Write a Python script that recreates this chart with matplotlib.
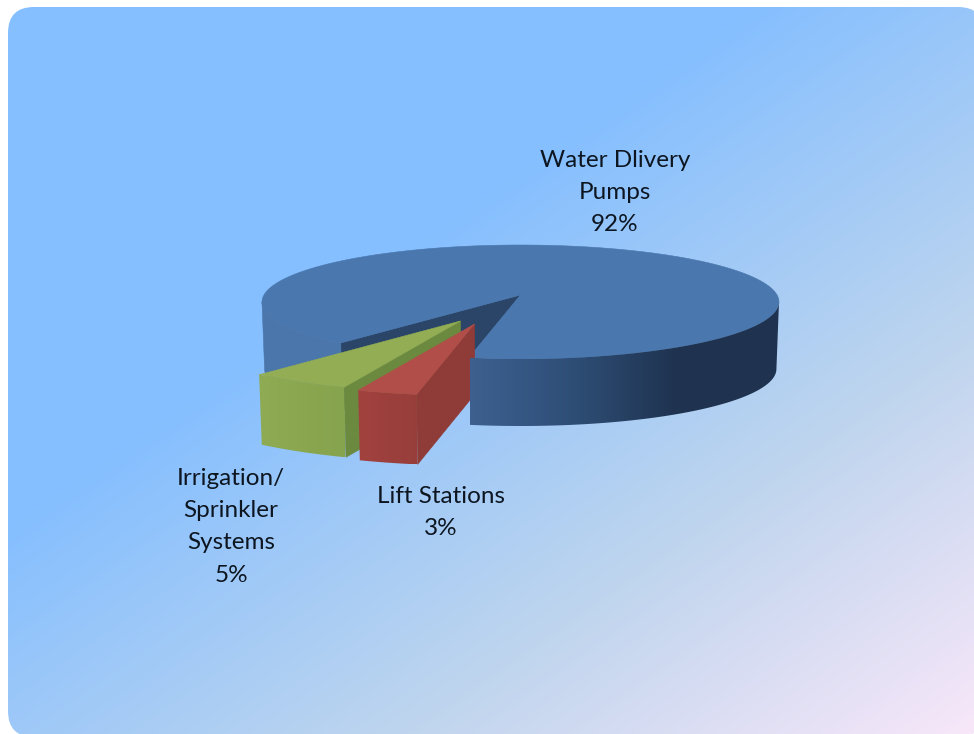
import numpy as np
import matplotlib
matplotlib.use("Agg")
import matplotlib.pyplot as plt
from matplotlib.colors import LinearSegmentedColormap
from matplotlib.patches import FancyBboxPatch, PathPatch, Polygon
from matplotlib.path import Path

labels = ["Water Dlivery\nPumps", "Irrigation/\nSprinkler\nSystems", "Lift Stations"]
shares = [91.9, 5.1, 3.0]
shown = ["92%", "5%", "3%"]

img_width = 974
img_height = 734

# pie geometry in picture pixels
cx, cy = 520.5, 302
rx, ry = 258.5, 57
depth = 67
depth_near = 70
apex_y = 295
start_angle = 100.2   # where the big slice ends, lift stations start here
explode_shift = {"green": (-60, 26), "red": (-46, 29)}
explode_scale = 1.12


def rim(theta):
    # perspective: true centre of the pie lands on apex_y, not on the ellipse centre
    theta = np.radians(theta)
    e = (apex_y - cy) / ry
    x, y = np.cos(theta), np.sin(theta)
    d = 1 + e * y
    return np.column_stack((cx + rx * x * np.sqrt(1 - e * e) / d, cy + ry * (y + e) / d))


def drop(pts, h=depth):
    # the bottom edge sits a bit lower and closer to the middle
    out = np.array(pts, dtype=float)
    out[:, 0] = cx + (out[:, 0] - cx) * 0.99
    out[:, 1] = out[:, 1] + h
    return out


def poly(ax, pts, color, z):
    ax.add_patch(Polygon(pts, closed=True, facecolor=color, edgecolor=color, linewidth=0.4, zorder=z))


def gradient_fill(ax, pts, colors, x0, x1, z):
    cmap = LinearSegmentedColormap.from_list("wall", colors)
    grad = np.linspace(0, 1, 256).reshape(1, -1)
    y0, y1 = pts[:, 1].min(), pts[:, 1].max()
    im = ax.imshow(grad, cmap=cmap, extent=(x0, x1, y1, y0), aspect="auto", zorder=z, interpolation="bilinear")
    clip = PathPatch(Path(np.vstack((pts, pts[:1])), closed=True), transform=ax.transData, facecolor="none", edgecolor="none")
    ax.add_patch(clip)
    im.set_clip_path(clip)


fig = plt.figure(figsize=(img_width / 100, img_height / 100), dpi=100, facecolor="white")
ax = fig.add_axes([0, 0, 1, 1])
plt.rcParams["font.family"] = ["Lato", "DejaVu Sans"]

# background card
yy, xx = np.mgrid[0:img_height, 0:img_width]
t = np.clip((xx / 760 + yy / 530 - 1) / 1.67, 0, 1)
bg_cmap = LinearSegmentedColormap.from_list("bg", [(0, "#85bfff"), (0.55, "#bfd5ee"), (1, "#f8e7f9")])
bg = ax.imshow(t, cmap=bg_cmap, vmin=0, vmax=1, extent=(0, img_width, img_height, 0), aspect="auto", zorder=0)
card = FancyBboxPatch((8, 7), 976, 730, boxstyle="round,pad=0,rounding_size=26", facecolor="none", edgecolor="none", transform=ax.transData)
ax.add_patch(card)
bg.set_clip_path(card)

# slice angles from the shares, clockwise on screen starting at the right cut
a_lift = start_angle + shares[2] * 3.6
a_irrig = a_lift + shares[1] * 3.6
apex = np.array([[cx, apex_y]])

# big slice, top
theta_main = np.linspace(a_irrig, start_angle + 360, 400)
top_main = np.vstack((apex, rim(theta_main)))
poly(ax, top_main, "#4a77ae", 2)

# dark inner wall seen through the gap
left_cut = rim([a_irrig])
right_cut = rim([start_angle])
poly(ax, np.vstack((apex, left_cut, drop(left_cut), drop(apex), right_cut)), "#2b4568", 1)

# big slice, outer wall on the left
theta_left = np.linspace(a_irrig, 173, 80)
wall_left = np.vstack((rim(theta_left), drop(rim(theta_left))[::-1]))
poly(ax, wall_left, "#4a76ab", 1.5)

# big slice, outer wall on the right
theta_right = np.linspace(start_angle, 7, 150)
wall_right = np.vstack((rim(theta_right), drop(rim(theta_right))[::-1]))
gradient_fill(ax, wall_right, ["#3d6090", "#2e4e76", "#1f3350", "#1f3350"], 470, 779, 6)


def exploded(a0, a1, shift):
    mid = rim(np.linspace(a0, a1, 20))
    tip = apex + shift
    return tip, tip + (mid - apex) * explode_scale


# irrigation slice
tip, edge = exploded(a_irrig, a_lift, explode_shift["green"])
side = np.vstack((tip, edge[-1:], drop(edge[-1:], depth_near), drop(tip, depth_near)))
poly(ax, side, "#6c8a3f", 3)
front = np.vstack((edge, drop(edge, depth_near)[::-1]))
gradient_fill(ax, front, ["#8fab53", "#86a34d"], edge[:, 0].min(), edge[:, 0].max(), 3.1)
poly(ax, np.vstack((tip, edge)), "#92ad54", 3.2)

# lift stations slice
tip, edge = exploded(a_lift, start_angle, explode_shift["red"])
side = np.vstack((tip, edge[-1:], drop(edge[-1:], depth_near), drop(tip, depth_near)))
poly(ax, side, "#8f3b38", 4)
front = np.vstack((edge, drop(edge, depth_near)[::-1]))
gradient_fill(ax, front, ["#a2423f", "#973e3b"], edge[:, 0].min(), edge[:, 0].max(), 4.1)
poly(ax, np.vstack((tip, edge)), "#b14e49", 4.2)

# data labels
label_x = [615, 231, 441]
label_y = [150, 468, 486]
for name, pct, x, y in zip(labels, shown, label_x, label_y):
    ax.text(x, y, name + "\n" + pct, ha="center", va="top", fontsize=17.5,
            color="#0d1620", linespacing=1.66, zorder=10, transform=ax.transData)

ax.set_xlim(0, img_width)
ax.set_ylim(img_height, 0)
ax.axis("off")
fig.savefig("out.png", dpi=100, facecolor="white")
